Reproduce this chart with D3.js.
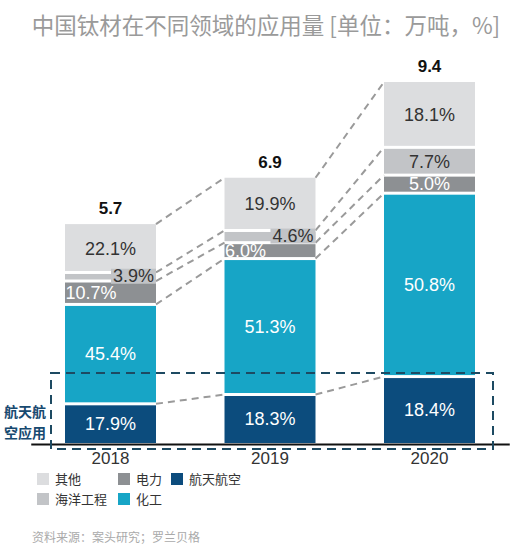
<!DOCTYPE html>
<html><head><meta charset="utf-8">
<script src="https://cdn.jsdelivr.net/npm/d3@7/dist/d3.min.js"></script>
<style>
html,body{margin:0;padding:0;background:#fff;}
svg{display:block;font-family:"Liberation Sans",Arial,"Noto Sans CJK SC",sans-serif;}
.cjk{font-family:"Noto Sans CJK SC","Liberation Sans",sans-serif;}
</style></head>
<body>
<svg id="chart" width="525" height="546"></svg>
<script>
// ---- data ----
const years = ["2018", "2019", "2020"];
const totals = [5.7, 6.9, 9.4];
const seriesNames = ["航天航空", "化工", "电力", "海洋工程", "其他"]; // bottom -> top
const aerospace = [17.9, 18.3, 18.4];
const chemical = [45.4, 51.3, 50.8];
const power = [10.7, 6.0, 5.0];
const marine = [3.9, 4.6, 7.7];
const other = [22.1, 19.9, 18.1];
const legendOrder = ["其他", "海洋工程", "电力", "化工", "航天航空"];
const title = "中国钛材在不同领域的应用量 [单位：万吨，%]";
const highlightLabel = ["航天航", "空应用"];
const source = "资料来源：案头研究；罗兰贝格";

// ---- build ----
const pctBySeries = { "航天航空": aerospace, "化工": chemical, "电力": power, "海洋工程": marine, "其他": other };
const colors = { "航天航空": "#0c4c7d", "化工": "#17a5c6", "电力": "#8d9093", "海洋工程": "#c2c4c7", "其他": "#dcdddf" };
const darkText = { "航天航空": false, "化工": false, "电力": false, "海洋工程": true, "其他": true };

const rows = years.map((y, i) => {
  const r = { year: y, total: totals[i] };
  seriesNames.forEach(s => { r[s] = totals[i] * pctBySeries[s][i] / 100; r[s + "_pct"] = pctBySeries[s][i]; });
  return r;
});
const stacked = d3.stack().keys(seriesNames)(rows);

const svg = d3.select("#chart");
const x = d3.scaleBand().domain(years).range([30.75, 509.25]).paddingInner(0.4295).paddingOuter(0.4295 / 2);
const y = d3.scaleLinear().domain([0, 9.4]).range([443, 82]);
const bw = x.bandwidth();

// title
svg.append("text").attr("class", "cjk").attr("x", 266).attr("y", 34)
  .attr("text-anchor", "middle").attr("font-size", 22.5).attr("fill", "#9a9a9a").text(title);

// connectors
const conn = svg.append("g");
stacked.forEach(layer => {
  for (let i = 0; i < years.length - 1; i++) {
    conn.append("line")
      .attr("x1", x(years[i]) + bw).attr("y1", y(layer[i][1]))
      .attr("x2", x(years[i + 1])).attr("y2", y(layer[i + 1][1]))
      .attr("stroke", "#9a9a9a").attr("stroke-width", 2).attr("stroke-dasharray", "7,5");
  }
});

// bars
const gap = 1.5;
const bars = svg.append("g");
stacked.forEach((layer, li) => {
  const s = layer.key;
  layer.forEach((d, i) => {
    const top = y(d[1]) + (li === seriesNames.length - 1 ? 0 : gap);
    const bot = y(d[0]) - (li === 0 ? 0 : gap);
    bars.append("rect").attr("x", x(years[i])).attr("y", top)
      .attr("width", bw).attr("height", Math.max(0, bot - top)).attr("fill", colors[s]);
  });
});

// segment labels
const offsetYears = new Set(["2018", "2019"]);
const labels = svg.append("g").attr("font-size", 18);
stacked.forEach(layer => {
  const s = layer.key;
  layer.forEach((d, i) => {
    const yr = years[i];
    const cy = (y(d[0]) + y(d[1])) / 2;
    const txt = d.data[s + "_pct"].toFixed(1) + "%";
    const fill = darkText[s] ? "#333" : "#fff";
    if (offsetYears.has(yr) && s === "海洋工程") {
      const t = labels.append("text").attr("x", x(yr) + bw - 2).attr("y", cy - 1)
        .attr("dy", "0.35em").attr("text-anchor", "end").attr("fill", fill).text(txt);
      const bb = t.node().getBBox();
      labels.insert("rect", () => t.node()).attr("x", bb.x - 2).attr("y", cy - 8)
        .attr("width", x(yr) + bw - bb.x + 2).attr("height", 15).attr("fill", colors[s]);
    } else if (offsetYears.has(yr) && s === "电力") {
      labels.append("text").attr("x", x(yr) + 0.5).attr("y", cy)
        .attr("dy", "0.35em").attr("text-anchor", "start").attr("fill", fill).text(txt);
    } else {
      labels.append("text").attr("x", x(yr) + bw / 2).attr("y", cy)
        .attr("dy", "0.35em").attr("text-anchor", "middle").attr("fill", fill).text(txt);
    }
  });
});

// totals
svg.append("g").selectAll("text").data(rows).join("text")
  .attr("x", d => x(d.year) + bw / 2).attr("y", d => y(d.total) - 10)
  .attr("text-anchor", "middle").attr("font-size", 17).attr("font-weight", "bold").attr("fill", "#111")
  .text(d => d.total.toFixed(1));

// x axis
const axis = svg.append("g").attr("transform", `translate(0,${y(0) + 1})`)
  .call(d3.axisBottom(x).tickSize(0).tickPadding(8));
axis.select(".domain").attr("stroke", "#111").attr("stroke-width", 2);
axis.selectAll("text").attr("font-size", 17).attr("fill", "#333")
  .attr("font-family", "'Liberation Sans',Arial,sans-serif");

// highlight dashed box
svg.append("rect").attr("x", 51).attr("y", 373).attr("width", 442).attr("height", 76)
  .attr("fill", "none").attr("stroke", "#1d4a62").attr("stroke-width", 2).attr("stroke-dasharray", "9,6");
svg.append("g").attr("class", "cjk").selectAll("text").data(highlightLabel).join("text")
  .attr("x", 25).attr("y", (d, i) => 417 + i * 20.8).attr("text-anchor", "middle")
  .attr("font-size", 14).attr("font-weight", "bold").attr("fill", "#174a70").text(d => d);

// legend
const lg = svg.append("g").attr("class", "cjk");
const colX = [37, 118, 171];
legendOrder.forEach((s, k) => {
  const col = Math.floor(k / 2), row = k % 2;
  const gx = colX[col], gy = 479 + row * 20;
  lg.append("rect").attr("x", gx).attr("y", gy - 6).attr("width", 12).attr("height", 12).attr("fill", colors[s]);
  lg.append("text").attr("x", gx + 18).attr("y", gy).attr("dy", "0.36em")
    .attr("font-size", 13).attr("fill", "#333").text(s);
});

// source
svg.append("text").attr("class", "cjk").attr("x", 32).attr("y", 542)
  .attr("font-size", 12).attr("fill", "#aaa").text(source);
</script>
</body></html>
